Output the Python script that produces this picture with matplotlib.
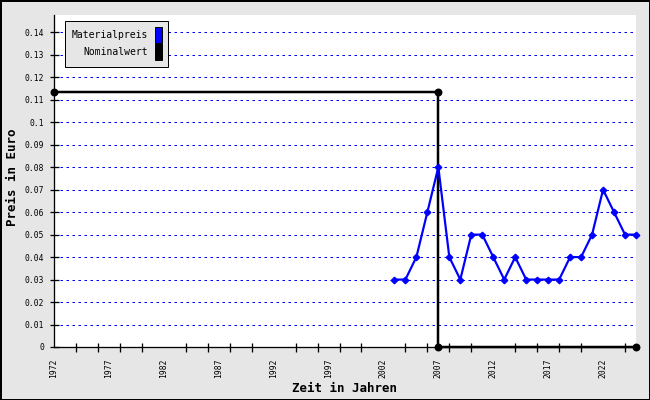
import matplotlib
matplotlib.use("Agg")
import matplotlib.pyplot as plt
from matplotlib.patches import Patch, Rectangle
from matplotlib.ticker import MultipleLocator, FixedLocator

# ---- data ----
years = list(range(2003, 2026))
materialpreis = [0.03, 0.03, 0.04, 0.06, 0.08, 0.04, 0.03, 0.05, 0.05, 0.04,
                 0.03, 0.04, 0.03, 0.03, 0.03, 0.03, 0.04, 0.04, 0.05, 0.07,
                 0.06, 0.05, 0.05]
nominal_years = [1972, 2007, 2007, 2025]
nominalwert = [0.1134, 0.1134, 0.0, 0.0]
xtick_labels = [1972, 1977, 1982, 1987, 1992, 1997, 2002, 2007, 2012, 2017, 2022]
ytick_values = [round(0.01 * i, 2) for i in range(0, 15)]
series_names = ["Materialpreis", "Nominalwert"]

PX = 72 / 100.0  # points per pixel at dpi 100
MONO = "DejaVu Sans Mono"
BG = "#e6e6e6"
BLUE = "#0000ff"

fig = plt.figure(figsize=(6.5, 4.0), dpi=100, facecolor=BG)
ax = fig.add_axes([54 / 650, 1 - 347 / 400, (636 - 54) / 650, (347 - 15) / 400])
ax.set_facecolor("white")

ax.set_xlim(1972, 2025)
ax.set_ylim(0, 0.1477)

# grid lines
for v in ytick_values[1:]:
    ax.axhline(v, color=BLUE, lw=1 * PX, linestyle=(0, (2.5, 3.5)), zorder=1)

ax.plot(nominal_years, nominalwert, color="black", lw=2.5 * PX, marker="o",
        markersize=6.5 * PX, zorder=3, clip_on=False)
ax.plot(years, materialpreis, color=BLUE, lw=2.2 * PX, marker="D",
        markersize=4.6 * PX, zorder=4, clip_on=False)

for s in ["top", "right"]:
    ax.spines[s].set_visible(False)
for s in ["left", "bottom"]:
    ax.spines[s].set_linewidth(1.3 * PX)
    ax.spines[s].set_zorder(5)

ax.yaxis.set_major_locator(FixedLocator(ytick_values))
ax.set_yticklabels(["0" if v == 0 else f"{v:g}" for v in ytick_values],
                   fontfamily=MONO, fontsize=5.8)
ax.tick_params(axis="y", direction="inout", length=9 * PX, width=1.3 * PX, pad=4)

ax.xaxis.set_major_locator(FixedLocator(xtick_labels))
ax.set_xticklabels([str(v) for v in xtick_labels], rotation=90,
                   fontfamily=MONO, fontsize=5.8)
ax.xaxis.set_minor_locator(MultipleLocator(2))
ax.tick_params(axis="x", which="major", length=0, pad=11 * PX)
ax.tick_params(axis="x", which="minor", direction="inout", length=9 * PX, width=1.3 * PX)

ax.set_xlabel("Zeit in Jahren", fontfamily=MONO, fontsize=9, fontweight="bold")
ax.xaxis.set_label_coords(0.5, (347 - 389) / 332, transform=ax.transAxes)
ax.xaxis.label.set_va("center")
ax.set_ylabel("Preis in Euro", fontfamily=MONO, fontsize=9, fontweight="bold")
ax.yaxis.set_label_coords((12.7 - 54) / 582, (347 - 177.5) / 332, transform=ax.transAxes)
ax.yaxis.label.set_va("center")

handles = [Patch(facecolor=BLUE, edgecolor="black", lw=1 * PX),
           Patch(facecolor="black", edgecolor="black", lw=1 * PX)]
leg = ax.legend(handles, series_names, loc="upper left",
                bbox_to_anchor=((65 - 54) / 582, (347 - 20.7) / 332),
                borderaxespad=0, markerfirst=False, frameon=True, fancybox=False,
                framealpha=1, facecolor=BG, edgecolor="black",
                prop={"family": MONO, "size": 7},
                handlelength=0.72, handleheight=2.15, handletextpad=0.72,
                labelspacing=0.15, borderpad=0.65)
leg.get_frame().set_linewidth(1 * PX)
leg.set_zorder(6)

fig.patches.append(Rectangle((0, 0), 1, 1, transform=fig.transFigure,
                             fill=False, edgecolor="black", lw=3 * PX))

fig.savefig("out.png", dpi=100, facecolor=BG)
